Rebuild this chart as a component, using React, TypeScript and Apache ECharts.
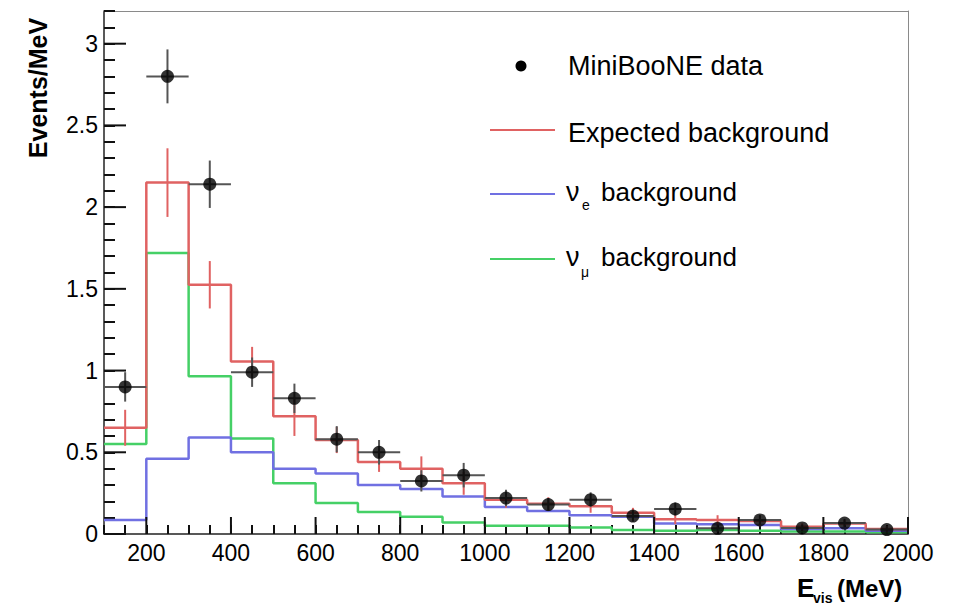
import React, { useEffect, useRef } from "react";
import * as echarts from "echarts";

// Histogram bins (MeV): low edges and centres
const binLow = [100, 200, 300, 400, 500, 600, 700, 800, 900, 1000, 1100, 1200, 1300, 1400, 1500, 1600, 1700, 1800, 1900];
const binCenters = [150, 250, 350, 450, 550, 650, 750, 850, 950, 1050, 1150, 1250, 1350, 1450, 1550, 1650, 1750, 1850, 1950];
const BIN_WIDTH = 100;

// MiniBooNE data (Events/MeV) and errors
const dataVals = [0.90, 2.80, 2.14, 0.99, 0.83, 0.58, 0.50, 0.325, 0.36, 0.22, 0.18, 0.21, 0.11, 0.153, 0.035, 0.086, 0.037, 0.067, 0.027];
const dataErr = [0.09, 0.165, 0.145, 0.09, 0.09, 0.08, 0.075, 0.065, 0.075, 0.05, 0.04, 0.045, 0.035, 0.04, 0.025, 0.03, 0.02, 0.025, 0.02];

// Expected background and its errors
const expected = [0.65, 2.15, 1.525, 1.055, 0.72, 0.575, 0.44, 0.40, 0.31, 0.21, 0.185, 0.17, 0.13, 0.09, 0.085, 0.08, 0.045, 0.065, 0.03];
const expectedErr = [0.11, 0.21, 0.145, 0.09, 0.12, 0.08, 0.06, 0.075, 0.07, 0.05, 0.04, 0.04, 0.03, 0.03, 0.03, 0.03, 0.02, 0.02, 0.02];

// nu_e and nu_mu backgrounds
const nuE = [0.085, 0.46, 0.59, 0.50, 0.40, 0.37, 0.30, 0.275, 0.23, 0.165, 0.14, 0.115, 0.105, 0.065, 0.06, 0.055, 0.03, 0.035, 0.02];
const nuMu = [0.55, 1.72, 0.965, 0.585, 0.31, 0.19, 0.135, 0.105, 0.07, 0.05, 0.05, 0.04, 0.025, 0.02, 0.025, 0.02, 0.015, 0.015, 0.01];

// Axis ranges and ticks
const X_MIN = 100;
const X_MAX = 2000;
const X_MINOR_STEP = 50;
const X_LABEL_STEP = 200;
const Y_MIN = 0;
const Y_MAX = 3.2;
const Y_MINOR_STEP = 0.1;
const Y_LABEL_STEP = 0.5;
const xMajorTicks = [200, 400, 600, 800, 1000, 1200, 1400, 1600, 1800, 2000];
const yMajorTicks = [0, 0.5, 1, 1.5, 2, 2.5, 3];

const RED = "#e06262";
const BLUE = "#7070e2";
const GREEN = "#45d066";
const AXIS = "#222222";
const TICK = "#111111";
const FRAME = "#8a8a8a";
const FONT = "'Liberation Sans', Arial, Helvetica, sans-serif";

const stepData = (vals: number[]) => {
  const pts = binLow.map((x, i) => [x, vals[i]]);
  pts.push([X_MAX, vals[vals.length - 1]]);
  return pts;
};

const isMultiple = (v: number, step: number) => Math.abs(v / step - Math.round(v / step)) < 1e-6;

// long major tick marks: [x, y, length in px]
const xMajorTickData = xMajorTicks.map((v) => [v, Y_MIN, 17]);
const yMajorTickData = yMajorTicks.map((v) => [X_MIN, v, 22]);

const txt = (x: number, y: number, text: string, font: string) => ({
  type: "text",
  x,
  y,
  style: { text, font: `${font} ${FONT}`, fill: "#000", verticalAlign: "middle" },
});

const graphics = [
  { type: "text", x: 38, y: 88, rotation: Math.PI / 2, style: { text: "Events/MeV", font: `bold 25px ${FONT}`, fill: "#000", align: "center", verticalAlign: "middle" } },
  txt(797, 588, "E", "bold 26px"),
  txt(813, 598, "vis", "bold 14px"),
  txt(837, 588, "(MeV)", "bold 24px"),
  { type: "circle", shape: { cx: 521, cy: 66, r: 5.5 }, style: { fill: "#000" } },
  txt(568, 66, "MiniBooNE data", "27px"),
  { type: "line", shape: { x1: 490, y1: 130, x2: 555, y2: 130 }, style: { stroke: RED, lineWidth: 2 } },
  txt(568, 133, "Expected background", "27px"),
  { type: "line", shape: { x1: 490, y1: 194, x2: 555, y2: 194 }, style: { stroke: BLUE, lineWidth: 2 } },
  txt(566, 192, "ν", "27px"),
  txt(582, 205, "e", "14px"),
  txt(601, 192, "background", "26px"),
  { type: "line", shape: { x1: 490, y1: 259, x2: 555, y2: 259 }, style: { stroke: GREEN, lineWidth: 2 } },
  txt(566, 257, "ν", "27px"),
  txt(581, 272, "μ", "14px"),
  txt(601, 257, "background", "26px"),
];

export default function App() {
  const ref = useRef<HTMLDivElement>(null);
  useEffect(() => {
    if (!ref.current) return;
    const chart = echarts.init(ref.current, null, { renderer: "svg" });
    const frameAxis = {
      type: "value",
      splitLine: { show: false },
      axisTick: { show: false },
      axisLabel: { show: false },
      axisLine: { show: true, onZero: false, lineStyle: { color: FRAME, width: 1 } },
    };
    const option: any = {
      animation: false,
      grid: { left: 104, right: 52, top: 11, bottom: 71 },
      xAxis: [
        {
          type: "value",
          min: X_MIN,
          max: X_MAX,
          interval: X_MINOR_STEP,
          splitLine: { show: false },
          axisLine: { show: true, onZero: false, lineStyle: { color: AXIS, width: 1.5 } },
          axisTick: { show: true, inside: true, length: 9, lineStyle: { color: TICK, width: 2 } },
          axisLabel: {
            margin: 7,
            color: "#000",
            fontSize: 23,
            fontFamily: FONT,
            formatter: (v: number) => (isMultiple(v, X_LABEL_STEP) ? String(v) : ""),
          },
        },
        { ...frameAxis, min: X_MIN, max: X_MAX, position: "top" },
      ],
      yAxis: [
        {
          type: "value",
          min: Y_MIN,
          max: Y_MAX,
          interval: Y_MINOR_STEP,
          splitLine: { show: false },
          axisLine: { show: true, onZero: false, lineStyle: { color: AXIS, width: 1.5 } },
          axisTick: { show: true, inside: true, length: 11, lineStyle: { color: TICK, width: 2 } },
          axisLabel: {
            margin: 6,
            color: "#000",
            fontSize: 23,
            fontFamily: FONT,
            formatter: (v: number) => (isMultiple(v, Y_LABEL_STEP) ? String(Math.round(v * 10) / 10) : ""),
          },
        },
        { ...frameAxis, min: Y_MIN, max: Y_MAX, position: "right" },
      ],
      series: [
        { type: "line", name: "νμ background", step: "end", data: stepData(nuMu), symbol: "none", lineStyle: { color: GREEN, width: 2.5 }, z: 2 },
        { type: "line", name: "νe background", step: "end", data: stepData(nuE), symbol: "none", lineStyle: { color: BLUE, width: 2.5 }, z: 3 },
        { type: "line", name: "Expected background", step: "end", data: stepData(expected), symbol: "none", lineStyle: { color: RED, width: 2.5 }, z: 4 },
        {
          type: "custom",
          name: "Expected background error",
          data: binCenters.map((x, i) => [x, expected[i], expectedErr[i]]),
          z: 5,
          renderItem: (_p: any, api: any) => {
            const x = api.value(0), y = api.value(1), e = api.value(2);
            const t = api.coord([x, y + e]);
            const b = api.coord([x, y - e]);
            return { type: "line", shape: { x1: t[0], y1: t[1], x2: b[0], y2: b[1] }, style: { stroke: RED, lineWidth: 2 } };
          },
        },
        {
          type: "custom",
          name: "MiniBooNE data error",
          data: binCenters.map((x, i) => [x, dataVals[i], dataErr[i]]),
          z: 6,
          renderItem: (_p: any, api: any) => {
            const x = api.value(0), y = api.value(1), e = api.value(2);
            const l = api.coord([x - BIN_WIDTH / 2, y]);
            const r = api.coord([x + BIN_WIDTH / 2, y]);
            const t = api.coord([x, y + e]);
            const b = api.coord([x, y - e]);
            return {
              type: "group",
              children: [
                { type: "line", shape: { x1: l[0], y1: l[1], x2: r[0], y2: r[1] }, style: { stroke: "#555", lineWidth: 2 } },
                { type: "line", shape: { x1: t[0], y1: t[1], x2: b[0], y2: b[1] }, style: { stroke: "#555", lineWidth: 2 } },
              ],
            };
          },
        },
        {
          type: "scatter",
          name: "MiniBooNE data",
          data: binCenters.map((x, i) => [x, dataVals[i]]),
          symbol: "circle",
          symbolSize: 13,
          itemStyle: { color: "#000" },
          z: 7,
        },
        {
          type: "custom",
          name: "x major ticks",
          data: xMajorTickData,
          z: 8,
          renderItem: (_p: any, api: any) => {
            const p = api.coord([api.value(0), api.value(1)]);
            const len = api.value(2);
            return { type: "line", shape: { x1: p[0], y1: p[1], x2: p[0], y2: p[1] - len }, style: { stroke: TICK, lineWidth: 2 } };
          },
        },
        {
          type: "custom",
          name: "y major ticks",
          data: yMajorTickData,
          z: 8,
          renderItem: (_p: any, api: any) => {
            const p = api.coord([api.value(0), api.value(1)]);
            const len = api.value(2);
            return { type: "line", shape: { x1: p[0], y1: p[1], x2: p[0] + len, y2: p[1] }, style: { stroke: TICK, lineWidth: 2 } };
          },
        },
      ],
      graphic: graphics,
    };
    chart.setOption(option);
    return () => chart.dispose();
  }, []);
  return <div ref={ref} style={{ width: 960, height: 605, position: "absolute", left: 0, top: 0, background: "#fff" }} />;
}
